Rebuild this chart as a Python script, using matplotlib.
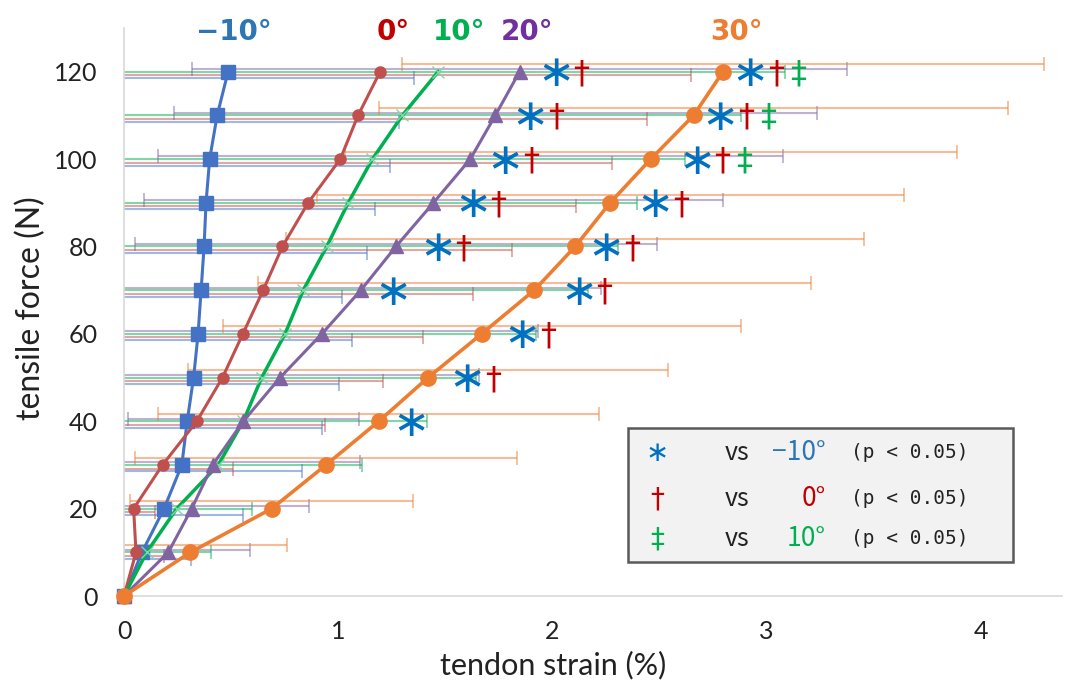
import matplotlib
matplotlib.use('Agg')
import matplotlib.pyplot as plt
from matplotlib.transforms import ScaledTranslation
from matplotlib.patches import Rectangle

# ---------------- data ----------------
force = [0, 10, 20, 30, 40, 50, 60, 70, 80, 90, 100, 110, 120]

strain_m10 = [0, 0.084, 0.187, 0.27, 0.295, 0.325, 0.346, 0.36, 0.374, 0.383, 0.40, 0.435, 0.486]
sd_m10     = [0, 0.23, 0.37, 0.56, 0.63, 0.68, 0.72, 0.66, 0.76, 0.79, 0.84, 0.85, 0.87]
strain_0   = [0, 0.056, 0.045, 0.18, 0.34, 0.46, 0.555, 0.65, 0.74, 0.86, 1.01, 1.093, 1.196]
sd_0       = [0, 0.13, 0.10, 0.33, 0.60, 0.75, 0.84, 0.98, 1.07, 1.25, 1.27, 1.35, 1.45]
strain_10  = [0, 0.106, 0.246, 0.44, 0.557, 0.643, 0.752, 0.837, 0.947, 1.047, 1.16, 1.30, 1.467]
sd_10      = [0, 0.30, 0.35, 0.67, 0.86, 1.00, 1.17, 1.33, 1.36, 1.35, 1.46, 1.58, 1.62]
strain_20  = [0, 0.207, 0.316, 0.414, 0.557, 0.729, 0.924, 1.106, 1.27, 1.445, 1.617, 1.734, 1.847]
sd_20      = [0, 0.38, 0.55, 0.69, 0.54, 0.93, 1.01, 1.12, 1.22, 1.35, 1.46, 1.50, 1.53]
strain_30  = [0, 0.31, 0.69, 0.943, 1.19, 1.42, 1.67, 1.916, 2.107, 2.27, 2.46, 2.66, 2.797]
sd_30      = [0, 0.45, 0.66, 0.89, 1.03, 1.12, 1.21, 1.29, 1.35, 1.37, 1.43, 1.47, 1.50]

series_labels = ['\u221210\u00b0', '0\u00b0', '10\u00b0', '20\u00b0', '30\u00b0']

# significance marks (x position of first symbol at each force level)
sig20_force = [70, 80, 90, 100, 110, 120]
sig20_x     = [1.256, 1.464, 1.628, 1.779, 1.896, 2.016]
sig20_marks = ['*', '*\u2020', '*\u2020', '*\u2020', '*\u2020', '*\u2020']
sig30_force = [40, 50, 60, 70, 80, 90, 100, 110, 120]
sig30_x     = [1.341, 1.602, 1.859, 2.122, 2.251, 2.48, 2.674, 2.783, 2.923]
sig30_marks = ['*', '*\u2020', '*\u2020', '*\u2020', '*\u2020', '*\u2020',
               '*\u2020\u2021', '*\u2020\u2021', '*\u2020\u2021']

xticks = [0, 1, 2, 3, 4]
yticks = [0, 20, 40, 60, 80, 100, 120]

# ---------------- style ----------------
FONT = ['Noto Sans CJK JP', 'DejaVu Sans']
plt.rcParams['font.family'] = FONT
AXFONT = ['Lato', 'DejaVu Sans']

W, H = 1065, 686
fig = plt.figure(figsize=(W / 100, H / 100), dpi=100)
ax = fig.add_axes([124 / W, 1 - 596 / H, (1062 - 124) / W, (596 - 28) / H])
ax.set_xlim(0, 4.38)
ax.set_ylim(0, 130)

line_cols = ['#4472C4', '#C0504D', '#00B050', '#8064A2', '#ED7D31']
text_cols = ['#2E75B6', '#C00000', '#00B050', '#7030A0', '#ED7D31']
markers = ['s', 'o', 'x', '^', 'o']
msizes = [10, 8, 9, 10, 11]
lws = [2.2, 2.2, 2.5, 2.2, 2.6]
eb_offsets = [-4.7, -2.6, 0.0, 1.9, 5.3]   # points, vertical shift of error bars
label_dx = [0.025, 0.06, 0.1, 0.035, 0.065]

strains = [strain_m10, strain_0, strain_10, strain_20, strain_30]
sds = [sd_m10, sd_0, sd_10, sd_20, sd_30]

for i, (xs, sd) in enumerate(zip(strains, sds)):
    c = line_cols[i]
    trans = ax.transData + ScaledTranslation(0, eb_offsets[i] / 72, fig.dpi_scale_trans)
    cont = ax.errorbar(xs, force, xerr=sd, fmt='none', ecolor=c, elinewidth=1.5,
                       capsize=5, capthick=1.3, alpha=0.5, zorder=2 + i * 0.1)
    for art in list(cont[1]) + list(cont[2]):
        art.set_transform(trans)
    if markers[i] == 'x':
        ax.plot(xs, force, color=c, lw=lws[i], zorder=3 + i * 0.1, clip_on=False)
        ax.plot(xs, force, ls='none', marker='x', ms=msizes[i], mew=1.0,
                color='#7FD8A8', zorder=3 + i * 0.1, clip_on=False)
    else:
        ax.plot(xs, force, color=c, lw=lws[i], marker=markers[i], ms=msizes[i],
                mec=c, mfc=c, zorder=3 + i * 0.1, clip_on=False)
    ax.text(xs[-1] + label_dx[i], 129, series_labels[i], color=text_cols[i],
            fontsize=20, fontweight='bold', ha='center', va='center',
            family=['DejaVu Sans'])

sym_col = {'*': '#0070C0', '\u2020': '#C00000', '\u2021': '#00B050'}
sym_txt = {'*': '\u2217', '\u2020': '\u2020', '\u2021': '\u2021'}
sym_dx = [0, 18.5, 34.5]   # points

def draw_marks(fs, xs, marks):
    for f, x0, m in zip(fs, xs, marks):
        for k, ch in enumerate(m):
            size = 32 if ch == '*' else 23
            ax.annotate(sym_txt[ch], (x0, f), xytext=(sym_dx[k], -1.5),
                        textcoords='offset points', ha='center', va='center',
                        color=sym_col[ch], fontsize=size,
                        family=['DejaVu Sans'], zorder=6)

draw_marks(sig20_force, sig20_x, sig20_marks)
draw_marks(sig30_force, sig30_x, sig30_marks)

# axes styling
for s in ['top', 'right']:
    ax.spines[s].set_visible(False)
for s in ['left', 'bottom']:
    ax.spines[s].set_color('#D9D9D9')
    ax.spines[s].set_linewidth(1.2)
ax.set_xticks(xticks)
ax.set_yticks(yticks)
ax.tick_params(axis='both', length=0, labelsize=18, colors='#222222')
ax.tick_params(axis='y', pad=19)
ax.tick_params(axis='x', pad=17)
for lab in ax.get_xticklabels() + ax.get_yticklabels():
    lab.set_family(AXFONT)
ax.set_xlabel('tendon strain (%)', fontsize=22, color='#222222', family=AXFONT)
ax.set_ylabel('tensile force (N)', fontsize=23, color='#222222', family=AXFONT)
ax.xaxis.set_label_coords((553 - 124) / 938, (596 - 651) / 568)
ax.yaxis.set_label_coords((46 - 124) / 938, (596 - 308) / 568)

# legend box (text based)
def fx(px):
    return px / W

def fy(py):
    return 1 - py / H

fig.patches.append(Rectangle((fx(628), fy(562)), (1013 - 628) / W, (562 - 428) / H,
                             transform=fig.transFigure, facecolor='#F2F2F2',
                             edgecolor='#595959', linewidth=1.8, zorder=10))
rows_y = [453, 499, 539]
leg_syms = ['\u2217', '\u2020', '\u2021']
leg_sym_cols = ['#0070C0', '#C00000', '#00B050']
leg_deg = ['\u221210\u00b0', '0\u00b0', '10\u00b0']
leg_deg_cols = ['#2E75B6', '#C00000', '#00B050']
for ry, s, sc, d, dc in zip(rows_y, leg_syms, leg_sym_cols, leg_deg, leg_deg_cols):
    fig.text(fx(657), fy(ry), s, color=sc, fontsize=20, ha='center', va='center',
             family=['DejaVu Sans'], zorder=11)
    fig.text(fx(737), fy(ry), 'vs', color='#222222', fontsize=18, ha='center',
             va='center', zorder=11)
    fig.text(fx(826), fy(ry), d, color=dc, fontsize=19, ha='right', va='center',
             zorder=11)
    fig.text(fx(851), fy(ry), '(p < 0.05)', color='#222222', fontsize=14,
             ha='left', va='center', family=['DejaVu Sans Mono'], zorder=11)

fig.savefig('out.png', dpi=100)
